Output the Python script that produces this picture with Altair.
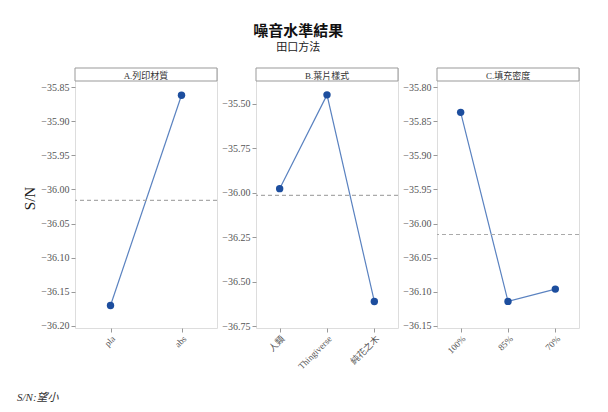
import altair as alt
import pandas as pd

FONT = "Liberation Serif, Noto Sans CJK TC"

# Data
a_levels = ["pla", "abs"]
a_values = [-36.170, -35.862]
b_levels = ["人類", "Thingiverse", "純花之木"]
b_values = [-35.978, -35.451, -36.612]
c_levels = ["100%", "85%", "70%"]
c_values = [-35.837, -36.114, -36.096]
grand_mean = -36.016

panel_titles = ["A.列印材質", "B.葉片樣式", "C.填充密度"]
a_ticks = [-36.20, -36.15, -36.10, -36.05, -36.00, -35.95, -35.90, -35.85]
b_ticks = [-36.75, -36.50, -36.25, -36.00, -35.75, -35.50]
c_ticks = [-36.15, -36.10, -36.05, -36.00, -35.95, -35.90, -35.85, -35.80]
a_domain = [-36.203, -35.822]
b_domain = [-36.761, -35.30]
c_domain = [-36.153, -35.772]

W, H = 142, 260
HEADER = 13
LINE_COLOR = "#5a82c0"
PT_COLOR = "#1d4e9e"


def panel(levels, values, title, ticks, domain, show_title):
    df = pd.DataFrame({"level": levels, "sn": values, "m": [grand_mean] * len(levels)})
    x = alt.X("level:N", sort=levels, scale=alt.Scale(type="point", padding=0.5),
              axis=alt.Axis(title=None, labelAngle=-45, labelFont=FONT, labelFontSize=9,
                            labelColor="#555555", tickColor="#999999", domain=False,
                            tickSize=4, labelPadding=2))
    yscale = alt.Scale(domain=domain, nice=False, zero=False)
    yaxis = alt.Axis(values=ticks, format=".2f", grid=False, domain=False,
                     labelOverlap=False, labelFlush=False,
                     labelFont=FONT, labelFontSize=10, labelColor="#555555",
                     tickColor="#999999", tickSize=4, labelPadding=2,
                     title="S/N" if show_title else None,
                     titleFont=FONT, titleFontSize=15, titleFontWeight="normal",
                     titleColor="#222222", titlePadding=3)
    y = alt.Y("sn:Q", scale=yscale, axis=yaxis)
    base = alt.Chart(df)
    mean = base.mark_rule(color="#aaaaaa", strokeDash=[4, 3], strokeWidth=1.2).encode(
        y=alt.Y("mean(m):Q", scale=yscale, axis=yaxis))
    line = base.mark_line(color=LINE_COLOR, strokeWidth=1.2).encode(x=x, y=y)
    pts = base.mark_point(filled=True, shape="circle", size=55, color=PT_COLOR, opacity=1).encode(x=x, y=y)
    hdr_df = pd.DataFrame({"t": [title]})
    hdr = alt.Chart(hdr_df).mark_rect(fill="white", stroke="#999999", strokeWidth=1).encode(
        x=alt.value(0), x2=alt.value(W), y=alt.value(0), y2=alt.value(HEADER))
    hdr_txt = alt.Chart(hdr_df).mark_text(font=FONT, fontSize=9, color="#333333",
                                          baseline="middle").encode(
        x=alt.value(W / 2), y=alt.value(HEADER / 2 + 1), text="t:N")
    layers = [line, pts, mean, hdr, hdr_txt]
    if show_title:
        note = alt.Chart(pd.DataFrame({"n": ["S/N:望小"]})).mark_text(
            font=FONT, fontSize=11, fontStyle="italic", color="#333333", align="left").encode(
            x=alt.value(-58), y=alt.value(H + 70), text="n:N")
        layers.append(note)
    return alt.layer(*layers).resolve_scale(y="shared").properties(width=W, height=H)


chart = alt.hconcat(
    panel(a_levels, a_values, panel_titles[0], a_ticks, a_domain, True),
    panel(b_levels, b_values, panel_titles[1], b_ticks, b_domain, False),
    panel(c_levels, c_values, panel_titles[2], c_ticks, c_domain, False),
    spacing=2,
).resolve_scale(y="independent").properties(
    title=alt.TitleParams(text="噪音水準結果", subtitle="田口方法", font=FONT,
                          fontSize=15, fontWeight="bold", color="#111111",
                          subtitleFont=FONT, subtitleFontSize=11, subtitleColor="#222222",
                          anchor="middle", offset=14),
    padding={"left": 16, "top": 24, "right": 10, "bottom": 5},
).configure_view(stroke="#bbbbbb", strokeWidth=1).configure(background="white")

chart.save("out.html", embed_options={"renderer": "svg", "actions": False})
